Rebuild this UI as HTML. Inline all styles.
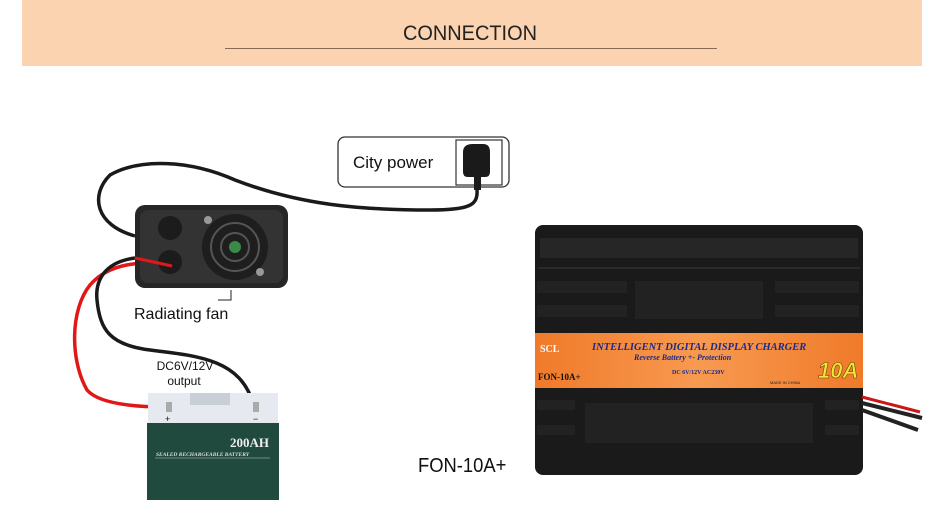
<!DOCTYPE html>
<html><head><meta charset="utf-8"><style>
body{margin:0;width:946px;height:525px;background:#fff;overflow:hidden;font-family:"Liberation Sans",sans-serif}
</style></head><body>
<svg width="946" height="525" viewBox="0 0 946 525" xmlns="http://www.w3.org/2000/svg" style="position:absolute;left:0;top:0">
<defs>
<linearGradient id="org" x1="0" x2="1"><stop offset="0" stop-color="#f07a2a"/><stop offset="0.5" stop-color="#f79a50"/><stop offset="1" stop-color="#f07a2a"/></linearGradient>
</defs>
<rect x="22" y="0" width="900" height="66" fill="#fcd3b0"/>
<text x="470" y="40" font-size="21" text-anchor="middle" fill="#222" font-family="Liberation Sans" transform="translate(470 0) scale(0.95 1) translate(-470 0)">CONNECTION</text>
<line x1="225" y1="48.5" x2="717" y2="48.5" stroke="#8a6a55" stroke-width="1"/>

<rect x="338" y="137" width="171" height="50" rx="7" fill="#fff" stroke="#333" stroke-width="1.3"/>
<text x="353" y="168" font-size="17" fill="#111">City power</text>
<rect x="456" y="140" width="46" height="45" fill="#fff" stroke="#333" stroke-width="1.2"/>
<path d="M463 152 q0 -8 10 -8 h10 q7 0 7 8 v20 q0 5 -5 5 h-17 q-5 0 -5 -5z" fill="#1a1a1a"/>
<rect x="474" y="176" width="7" height="14" fill="#1a1a1a"/>

<path d="M477 190 C478 205 470 210 430 210 C360 210 300 205 235 180 C190 160 140 158 110 175 C90 195 95 225 135 236" fill="none" stroke="#1a1a1a" stroke-width="3.5"/>
<path d="M173 263 C140 262 110 262 90 285 C70 310 70 360 87 390 C100 405 140 407 167 407" fill="none" stroke="#e01818" stroke-width="3.5"/>
<path d="M135 258 C105 262 95 280 97 300 C100 330 110 345 150 350 C200 356 240 360 253 403" fill="none" stroke="#1a1a1a" stroke-width="3.5"/>

<rect x="135" y="205" width="153" height="83" rx="10" fill="#262626"/>
<rect x="140" y="210" width="143" height="73" rx="8" fill="#333"/>
<circle cx="170" cy="228" r="12" fill="#1c1c1c"/><circle cx="170" cy="262" r="12" fill="#1c1c1c"/>
<circle cx="235" cy="247" r="33" fill="#1e1e1e"/>
<circle cx="235" cy="247" r="24" fill="none" stroke="#555" stroke-width="2"/>
<circle cx="235" cy="247" r="14" fill="none" stroke="#555" stroke-width="2"/>
<circle cx="235" cy="247" r="6" fill="#3a8a4a"/>
<circle cx="208" cy="220" r="4" fill="#999"/><circle cx="260" cy="272" r="4" fill="#999"/>
<path d="M172 266 L135 258" stroke="#e01818" stroke-width="3"/>
<polyline points="231,290 231,300 218,300" fill="none" stroke="#222" stroke-width="1"/>
<text x="134" y="319" font-size="16" fill="#111">Radiating fan</text>
<text x="185" y="370" font-size="12" text-anchor="middle" fill="#111">DC6V/12V</text>
<text x="184" y="385" font-size="12" text-anchor="middle" fill="#111">output</text>

<rect x="148" y="393" width="130" height="30" fill="#e6eaf0"/>
<rect x="190" y="393" width="40" height="12" fill="#c9cfd6"/>
<rect x="166" y="402" width="6" height="10" fill="#aaa"/><rect x="253" y="402" width="6" height="10" fill="#aaa"/>
<text x="165" y="422" font-size="9" fill="#111">+</text><text x="253" y="422" font-size="9" fill="#111">−</text>
<rect x="147" y="423" width="132" height="77" fill="#1f4a3d"/>
<text x="269" y="447" font-size="13" font-weight="bold" text-anchor="end" fill="#eee" font-family="Liberation Serif">200AH</text>
<text x="156" y="456" font-size="5.5" font-style="italic" font-weight="bold" fill="#ddd" font-family="Liberation Serif">SEALED RECHARGEABLE BATTERY</text>
<line x1="155" y1="458" x2="270" y2="458" stroke="#ccc" stroke-width="0.6"/>

<text x="418" y="472" font-size="20" fill="#111" transform="translate(418 0) scale(0.92 1) translate(-418 0)">FON-10A+</text>

<rect x="535" y="225" width="328" height="250" rx="8" fill="#1a1a1a"/>
<rect x="540" y="238" width="318" height="20" fill="#262626"/>
<line x1="538" y1="268" x2="860" y2="268" stroke="#3a3a3a" stroke-width="1"/>
<rect x="635" y="281" width="128" height="38" fill="#222"/>
<rect x="537" y="281" width="90" height="12" fill="#222"/><rect x="537" y="305" width="90" height="12" fill="#222"/>
<rect x="775" y="281" width="84" height="12" fill="#222"/><rect x="775" y="305" width="84" height="12" fill="#222"/>
<rect x="535" y="333" width="328" height="55" fill="url(#org)"/>
<text x="540" y="352" font-size="10" font-weight="bold" fill="#fff" font-family="Liberation Serif">SCL</text>
<text x="592" y="350" font-size="10.5" font-weight="bold" font-style="italic" fill="#1b2a8a" font-family="Liberation Serif">INTELLIGENT DIGITAL DISPLAY CHARGER</text>
<text x="634" y="360" font-size="8" font-weight="bold" font-style="italic" fill="#1b2a8a" font-family="Liberation Serif">Reverse Battery +- Protection</text>
<text x="672" y="374" font-size="6" font-weight="bold" fill="#1b2a8a" font-family="Liberation Serif">DC 6V/12V AC230V</text>
<text x="538" y="380" font-size="9" font-weight="bold" fill="#111" font-family="Liberation Serif">FON-10A+</text>
<text x="818" y="378" font-size="22" font-weight="bold" font-style="italic" fill="#f5e43a" stroke="#6a4a00" stroke-width="0.6">10A</text>
<text x="770" y="384" font-size="4" fill="#222">MADE IN CHINA</text>
<rect x="585" y="403" width="228" height="40" fill="#222"/>
<rect x="537" y="400" width="38" height="10" fill="#222"/><rect x="537" y="425" width="38" height="10" fill="#222"/>
<rect x="825" y="400" width="34" height="10" fill="#222"/><rect x="825" y="425" width="34" height="10" fill="#222"/>
<path d="M862 397 L920 412" stroke="#c81818" stroke-width="3"/>
<path d="M862 403 L922 418" stroke="#222" stroke-width="4"/>
<path d="M862 410 L918 430" stroke="#222" stroke-width="4"/>
</svg>
</body></html>
